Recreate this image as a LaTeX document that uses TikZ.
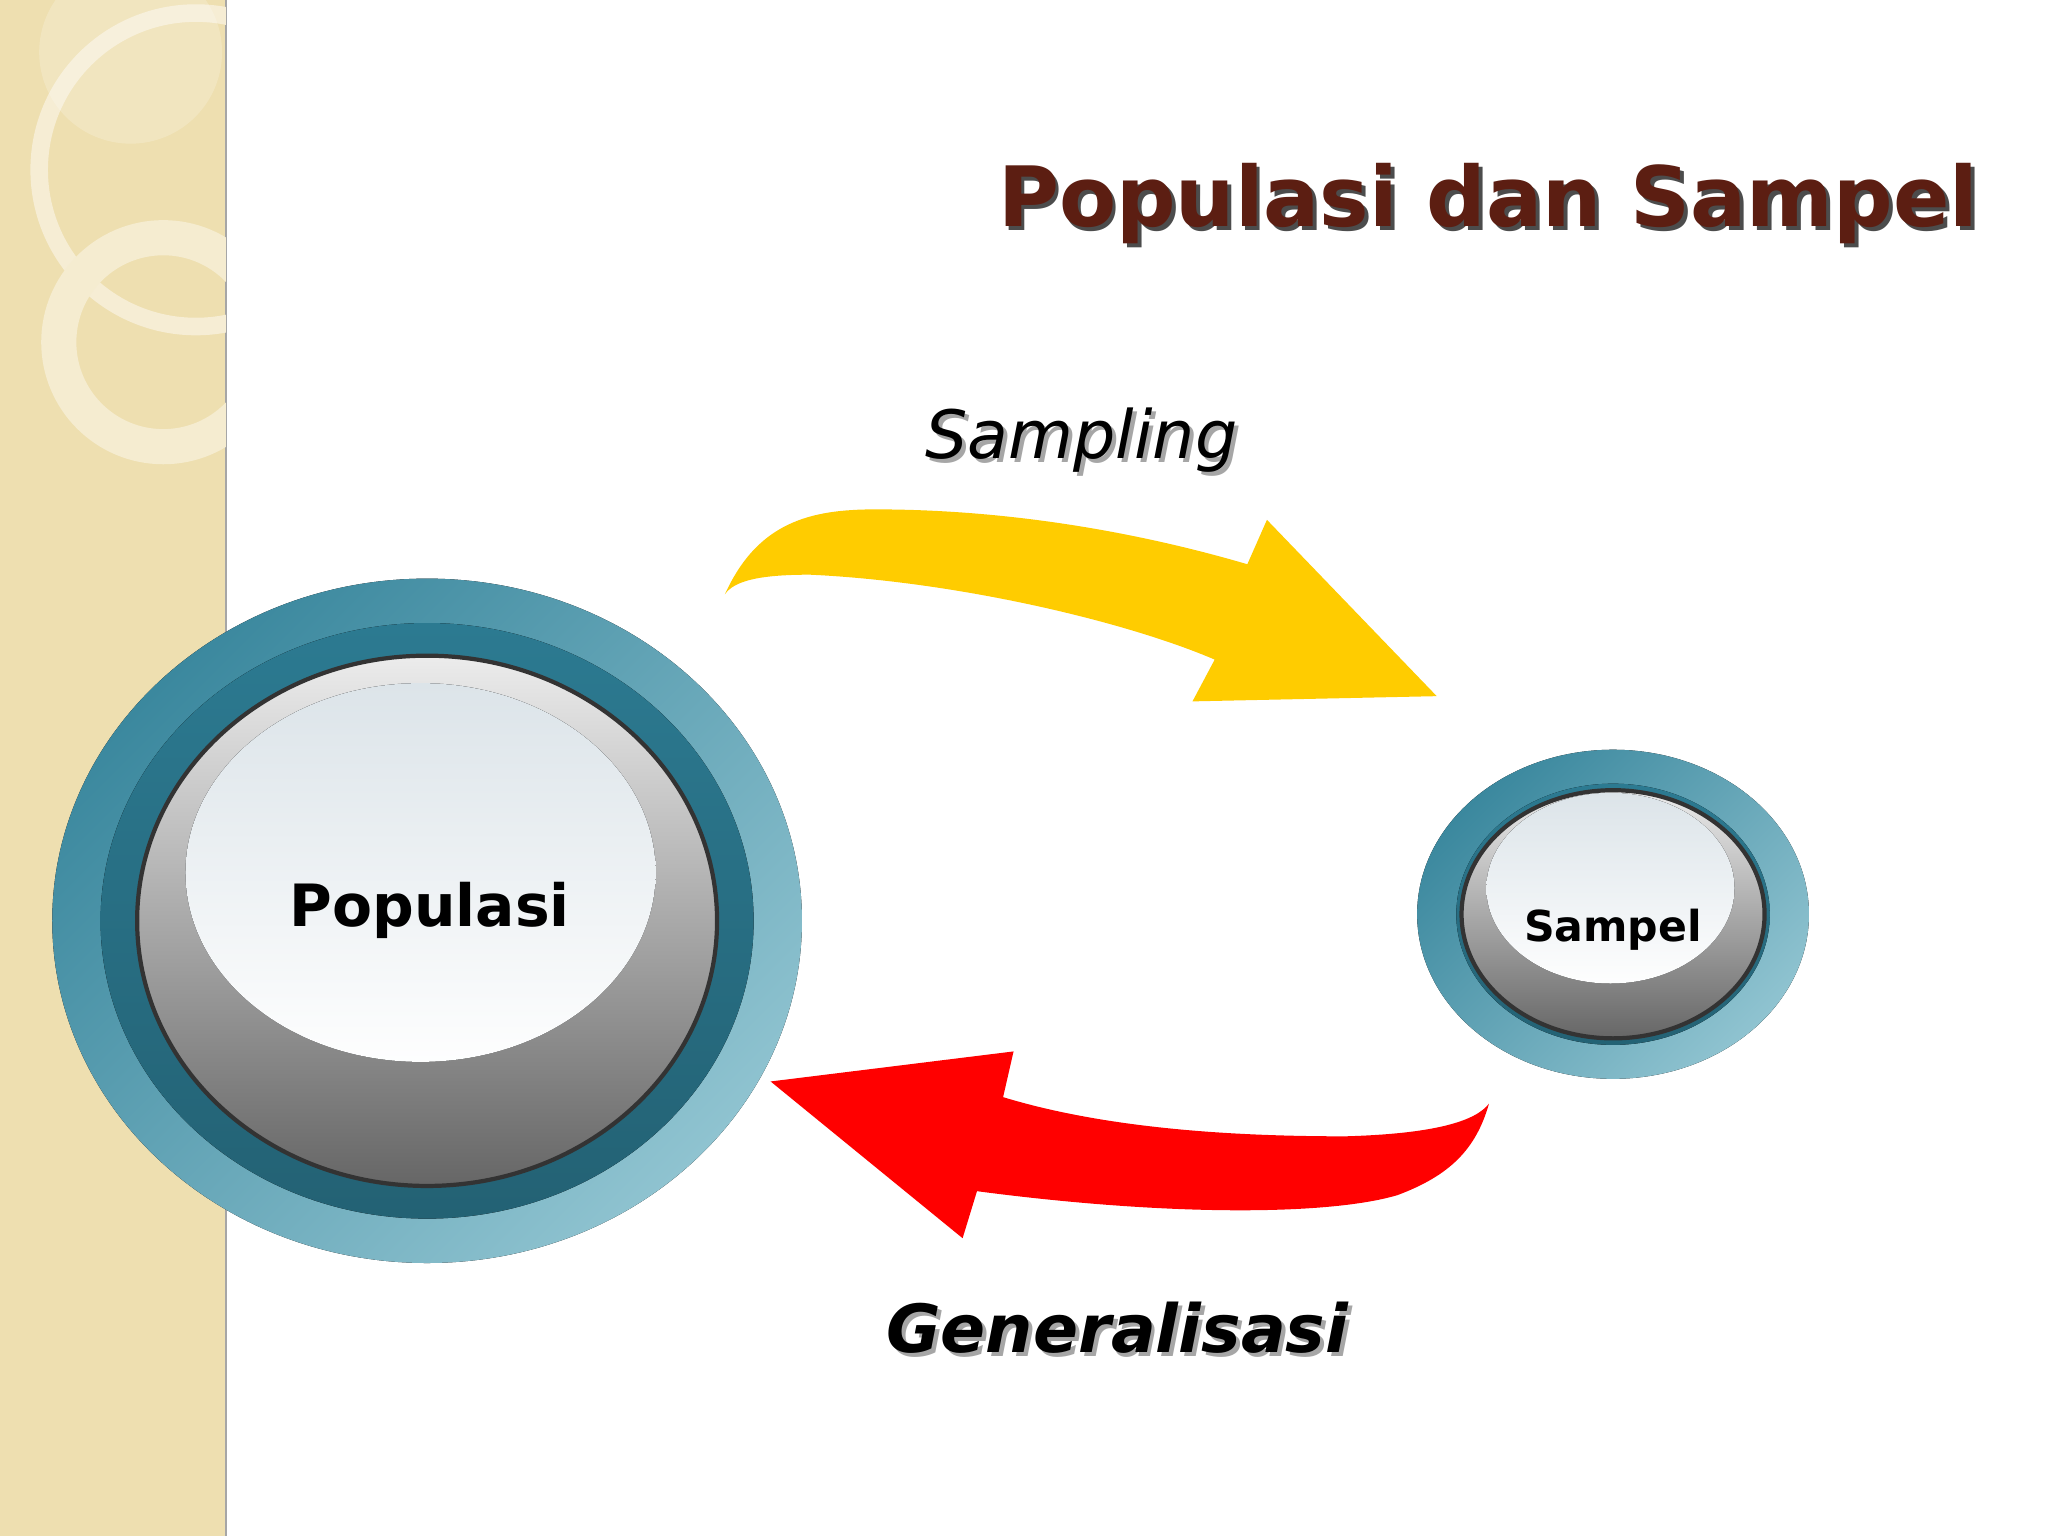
\documentclass[tikz,border=0pt]{standalone}
\usepackage{fontspec}
\setmainfont{DejaVu Sans}
\usetikzlibrary{shadings}
\definecolor{beige}{HTML}{EEDFB0}
\definecolor{tealL}{HTML}{8FC3D0}
\definecolor{tealD}{HTML}{3B889E}
\definecolor{tealM}{HTML}{2C7A91}
\definecolor{titlec}{HTML}{5C1E12}
\definecolor{yel}{HTML}{FFCC00}
\definecolor{hiL}{HTML}{DCE4E9}
\tikzset{
 outer/.style={shade,top color=tealD,bottom color=tealL,shading angle=45},
 midring/.style={shade,top color=tealM,bottom color=tealM!80!black},
 button/.style={shade,top color=gray!15,bottom color=gray!80!black,draw=black!80,line width=1.2pt},
 hilite/.style={shade,top color=hiL,bottom color=white!96!hiL},
 lab/.style={inner sep=0pt}
}
\begin{document}
\begin{tikzpicture}[x=0.01306cm,y=-0.01306cm]
\useasboundingbox (0,0) rectangle (1568,1176);
\fill[white] (0,0) rectangle (1568,1176);
% left strip
\fill[beige] (0,0) rectangle (173,1176);
\draw[gray!70,line width=0.8pt] (173,0) -- (173,1176);
\begin{scope}
\clip (0,0) rectangle (173,1176);
\draw[white!45!beige,line width=5pt] (150,130) circle (120);
\draw[white!40!beige,line width=10pt] (125,262) circle (80);
\fill[white,opacity=0.2] (100,40) circle (70);
\end{scope}
% Populasi
\node[lab] (pop) at (327,705) {};
\fill[outer] (pop) ellipse [x radius=287,y radius=262];
\fill[midring] (pop) ellipse [x radius=250,y radius=228];
\path[button] (pop) ellipse [x radius=222,y radius=203];
\fill[hilite] (322,668) ellipse [x radius=180,y radius=145];
\node[font=\bfseries,lab] (popt) at (329,697) {\resizebox{2.8cm}{!}{Populasi}};
% Sampel
\node[lab] (smp) at (1235,700) {};
\fill[outer] (smp) ellipse [x radius=150,y radius=126];
\fill[midring] (smp) ellipse [x radius=120,y radius=100];
\path[button] (smp) ellipse [x radius=116,y radius=95];
\fill[hilite] (1233,680) ellipse [x radius=95,y radius=73];
\node[font=\bfseries,lab] (smpt) at (1235,712) {\resizebox{1.78cm}{!}{Sampel}};
% yellow arrow
\fill[yel] (555,455) .. controls (580,400) and (620,390) .. (670,390)
 .. controls (780,390) and (880,410) .. (955,432) -- (970,398) -- (1100,533) -- (913,537)
 -- (930,505) .. controls (860,475) and (730,445) .. (620,440) .. controls (580,440) and (562,445) .. (555,455) -- cycle;
% red arrow
\fill[red] (590,828) -- (776,805) -- (768,840) .. controls (850,865) and (950,870) .. (1030,870)
 .. controls (1100,868) and (1130,858) .. (1140,845) .. controls (1130,880) and (1110,900) .. (1070,915)
 .. controls (1020,930) and (900,932) .. (748,912) -- (737,948) -- cycle;
% texts
\node[lab,anchor=south west,text=black!35] at (711,365) {\resizebox{3.12cm}{!}{\itshape Sampling}};
\node[lab,anchor=south west] (samp) at (708,362) {\resizebox{3.12cm}{!}{\itshape Sampling}};
\node[lab,anchor=south west,text=black!35] at (681,1040) {\resizebox{4.62cm}{!}{\bfseries\itshape Generalisasi}};
\node[lab,anchor=south west] (gen) at (678,1037) {\resizebox{4.62cm}{!}{\bfseries\itshape Generalisasi}};
\node[lab,anchor=south east,text=black!70] at (1518,190) {\resizebox{9.8cm}{!}{\bfseries Populasi dan Sampel}};
\node[lab,anchor=south east,text=titlec] (title) at (1515,187) {\resizebox{9.8cm}{!}{\bfseries Populasi dan Sampel}};
\end{tikzpicture}
\end{document}
